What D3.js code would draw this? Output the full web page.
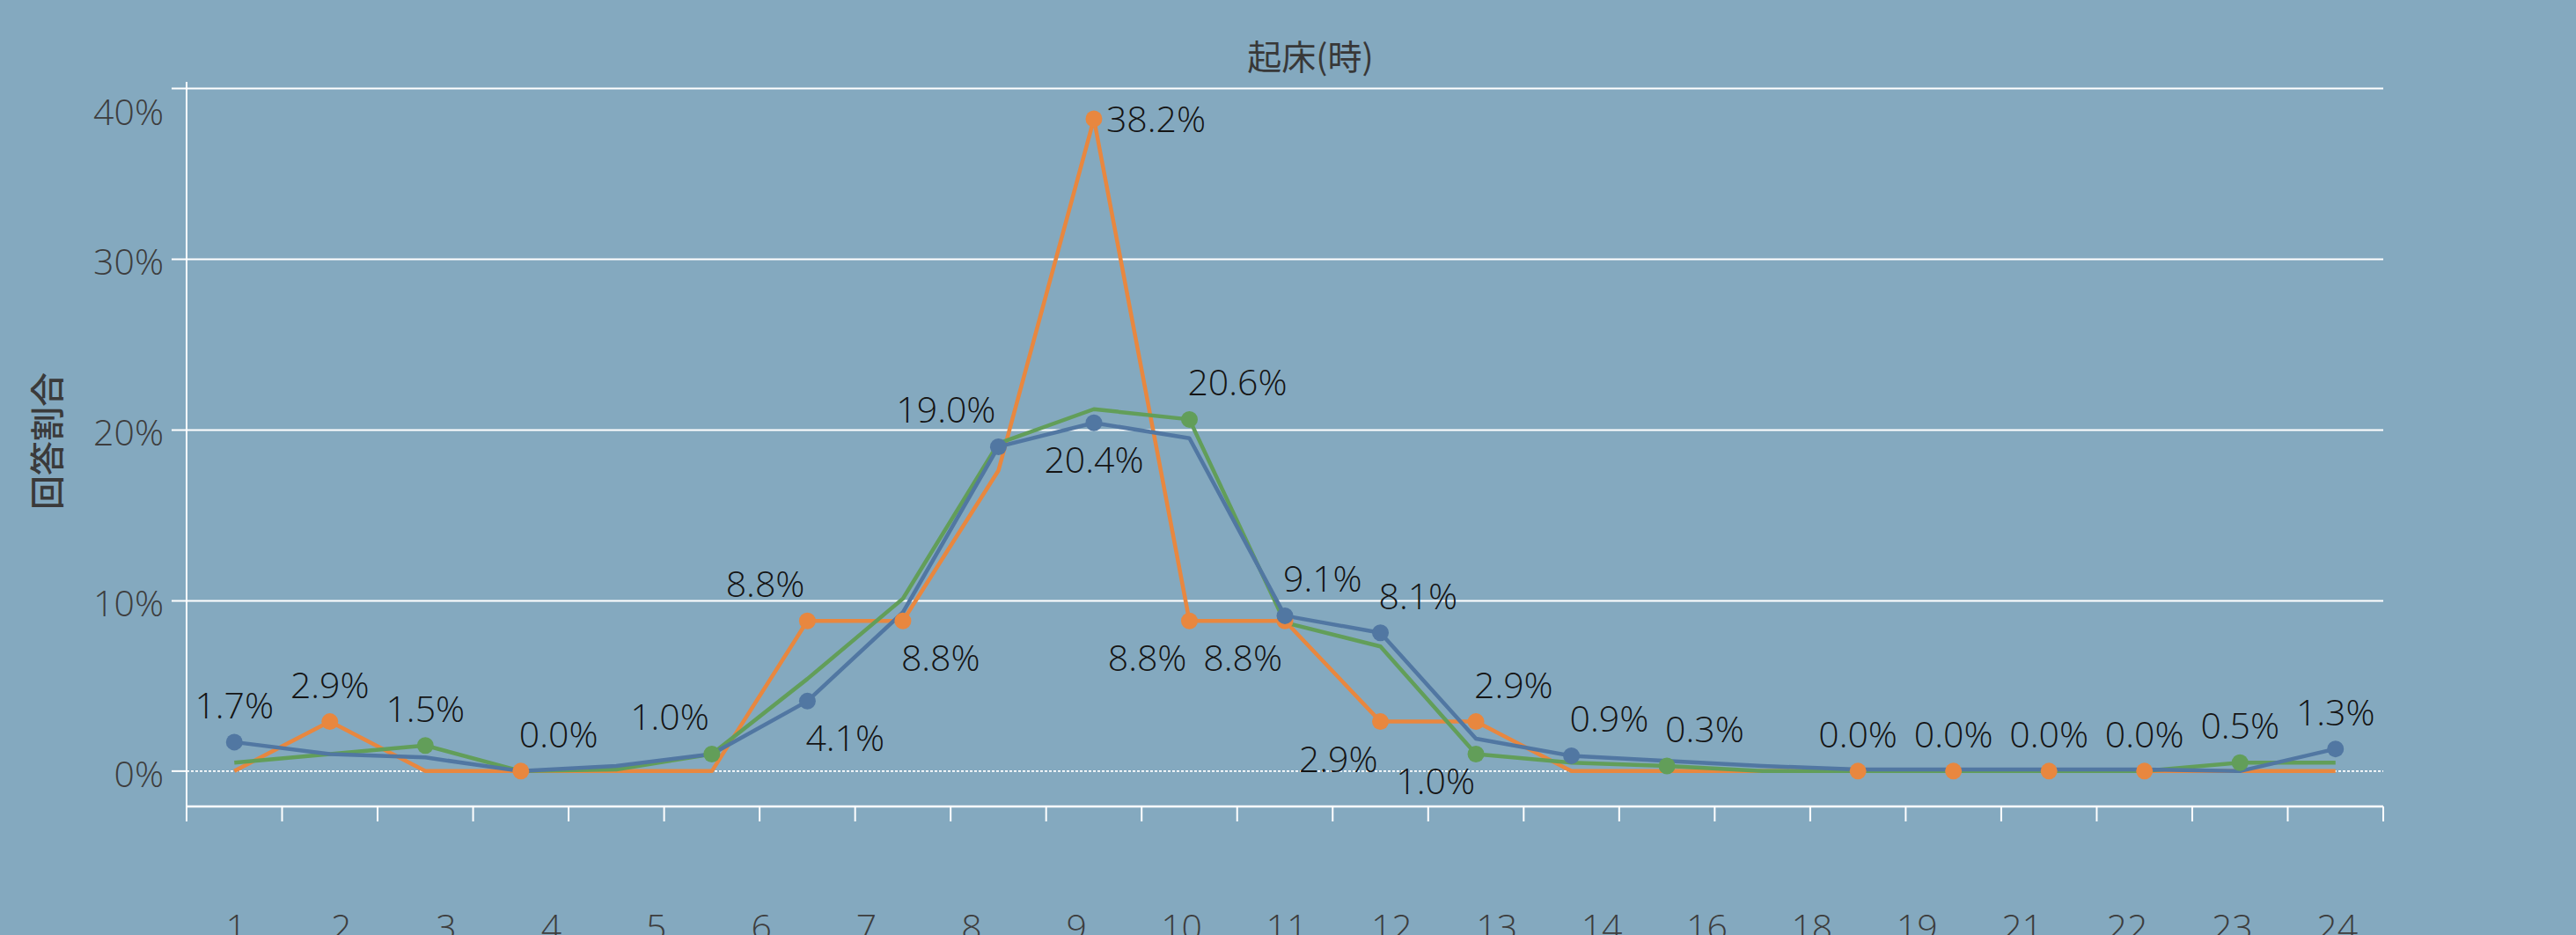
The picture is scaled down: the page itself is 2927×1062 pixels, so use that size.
<!DOCTYPE html>
<html>
<head>
<meta charset="utf-8">
<script src="https://cdn.jsdelivr.net/npm/d3@7"></script>
<style>
  html, body { margin: 0; padding: 0; background: #84A9BF; }
  svg { display: block; }
</style>
</head>
<body>
<svg id="chart" width="2927" height="1062"></svg>
<script>
// ---- data ----
const title = "起床(時)";
const yTitle = "回答割合";
// 23 plotted hour slots
const slots = ["s1","s2","s3","s4","s5","s6","s7","s8","s9","s10","s11","s12","s13","s14","s15","s16","s17","s18","s19","s20","s21","s22","s23"];
// axis tick labels as printed (21)
const tickLabels = ["1","2","3","4","5","6","7","8","9","10","11","12","13","14","16","18","19","21","22","23","24"];
const yTicks = [0, 10, 20, 30, 40];

const orangeValues = [0.0, 2.9, 0.0, 0.0, 0.0, 0.0, 8.8, 8.8, 17.6, 38.2, 8.8, 8.8, 2.9, 2.9, 0.0, 0.0, 0.0, 0.0, 0.0, 0.0, 0.0, 0.0, 0.0];
const greenValues  = [0.5, 1.0, 1.5, 0.0, 0.1, 1.0, 5.4, 10.1, 19.2, 21.2, 20.6, 8.7, 7.3, 1.0, 0.5, 0.3, 0.0, 0.0, 0.0, 0.0, 0.0, 0.5, 0.5];
const blueValues   = [1.7, 1.0, 0.8, 0.0, 0.3, 1.0, 4.1, 9.3, 19.0, 20.4, 19.5, 9.1, 8.1, 1.9, 0.9, 0.6, 0.3, 0.1, 0.1, 0.1, 0.1, 0.0, 1.3];

// labelled (marked) points: series, slot index, placement
const labelSpecs = [
  ["blue",0,"t"], ["orange",1,"t"], ["green",2,"t"], ["orange",3,"tr"],
  ["green",5,"tl"], ["orange",6,"tl"], ["blue",6,"br"], ["orange",7,"br"],
  ["blue",8,"tl"], ["blue",9,"b"], ["orange",9,"r"], ["green",10,"tr"],
  ["orange",10,"bl"], ["orange",11,"bl"], ["blue",11,"tr"], ["blue",12,"tr"],
  ["orange",12,"bl"], ["orange",13,"tr"], ["green",13,"bl2"], ["blue",14,"tr"],
  ["green",15,"tr"], ["orange",17,"t"], ["orange",18,"t"], ["orange",19,"t"],
  ["orange",20,"t"], ["green",21,"t"], ["blue",22,"t"]
];

// ---- styling ----
const colors = { orange: "#E8873F", green: "#629E59", blue: "#5177A2" };
const seriesOrder = ["orange", "green", "blue"];
const seriesData = { orange: orangeValues, green: greenValues, blue: blueValues };
const numFont = "'Open Sans', 'Noto Sans', sans-serif";
const cjkFont = "'Noto Sans CJK JP', sans-serif";

const svg = d3.select("#chart");
const plotL = 212, plotR = 2708, plotB = 916, plotT = 93;

const x = d3.scaleBand().domain(slots).range([plotL, plotR]).paddingInner(0).paddingOuter(0);
const bw = x.bandwidth();
const cx = i => x(slots[i]) + bw / 2;
const y = d3.scaleLinear().domain([-2.07, 40.37]).range([plotB, plotT]);
const xl = d3.scalePoint().domain(tickLabels).range([cx(0), cx(slots.length - 1)]);

// background
svg.append("rect").attr("width", 2927).attr("height", 1062).attr("fill", "#84A9BF");

// gridlines (solid) with left ticks
const gy = svg.append("g");
gy.selectAll("line.grid").data(yTicks.filter(d => d !== 0)).join("line")
  .attr("x1", plotL - 17).attr("x2", plotR)
  .attr("y1", d => Math.round(y(d)) + 0.5).attr("y2", d => Math.round(y(d)) + 0.5)
  .attr("stroke", "#ffffff").attr("stroke-width", 2);
// zero tick stub + dotted zero line
gy.append("line").attr("x1", plotL - 17).attr("x2", plotL)
  .attr("y1", y(0)).attr("y2", y(0)).attr("stroke", "#fff").attr("stroke-width", 2);
gy.append("line").attr("x1", plotL).attr("x2", plotR)
  .attr("y1", y(0)).attr("y2", y(0))
  .attr("stroke", "#ffffff").attr("stroke-width", 1.6).attr("stroke-dasharray", "3,2");

// y tick labels
svg.append("g").selectAll("text").data(yTicks).join("text")
  .attr("x", 186)
  .attr("y", d => Math.max(y(d) + 18, plotT + 49))
  .attr("text-anchor", "end")
  .attr("font-family", numFont).attr("font-size", 41).attr("font-weight", 300)
  .attr("fill", "#3d3d3d")
  .text(d => d + "%");

// axes lines
svg.append("line").attr("x1", plotL).attr("x2", plotL).attr("y1", plotT).attr("y2", plotB + 17)
  .attr("stroke", "#fff").attr("stroke-width", 2);
svg.append("line").attr("x1", plotL).attr("x2", plotR).attr("y1", plotB).attr("y2", plotB)
  .attr("stroke", "#fff").attr("stroke-width", 2.5);
// x band-boundary ticks
const boundaries = slots.map(s => x(s)).concat([plotR]);
svg.append("g").selectAll("line").data(boundaries).join("line")
  .attr("x1", d => d).attr("x2", d => d).attr("y1", plotB).attr("y2", plotB + 17)
  .attr("stroke", "#fff").attr("stroke-width", 2);

// x tick labels
svg.append("g").selectAll("text").data(tickLabels).join("text")
  .attr("x", d => xl(d) + 2).attr("y", 1068)
  .attr("text-anchor", "middle")
  .attr("font-family", numFont).attr("font-size", 41).attr("font-weight", 300)
  .attr("fill", "#3d3d3d")
  .text(d => d);

// lines
const line = d3.line().x((d, i) => cx(i)).y(d => y(d));
seriesOrder.forEach(k => {
  svg.append("path").datum(seriesData[k])
    .attr("d", line).attr("fill", "none")
    .attr("stroke", colors[k]).attr("stroke-width", 4.5)
    .attr("stroke-linejoin", "round").attr("stroke-linecap", "butt");
});

// markers
const specs = labelSpecs.map(([k, i, p]) => ({ k, i, p, v: seriesData[k][i] }));
seriesOrder.forEach(k => {
  svg.append("g").selectAll("circle").data(specs.filter(s => s.k === k)).join("circle")
    .attr("cx", d => cx(d.i)).attr("cy", d => y(d.v)).attr("r", 9.5)
    .attr("fill", colors[k]);
});

// data labels
const place = {
  t:  { dx: 0,  dy: -27, a: "middle" },
  tr: { dx: -2, dy: -27, a: "start" },
  tl: { dx: -3, dy: -27, a: "end" },
  b:  { dx: 0,  dy: 57,  a: "middle" },
  br: { dx: -2, dy: 57,  a: "start" },
  bl: { dx: -3, dy: 57,  a: "end" },
  bl2:{ dx: -1, dy: 46,  a: "end" },
  r:  { dx: 14, dy: 15,  a: "start" }
};
svg.append("g").selectAll("text").data(specs).join("text")
  .attr("x", d => cx(d.i) + place[d.p].dx)
  .attr("y", d => y(d.v) + place[d.p].dy)
  .attr("text-anchor", d => place[d.p].a)
  .attr("font-family", numFont).attr("font-size", 41).attr("font-weight", 300)
  .attr("fill", "#141414")
  .text(d => d.v.toFixed(1) + "%");

// title
svg.append("text").attr("x", 1489).attr("y", 79)
  .attr("text-anchor", "middle")
  .attr("font-family", cjkFont).attr("font-size", 39)
  .attr("fill", "#383838")
  .text(title);

// y axis title
svg.append("text").attr("transform", "translate(68,501) rotate(-90)")
  .attr("text-anchor", "middle")
  .attr("font-family", cjkFont).attr("font-size", 39).attr("font-weight", 500)
  .attr("fill", "#3a3a3a")
  .text(yTitle);
</script>
</body>
</html>
